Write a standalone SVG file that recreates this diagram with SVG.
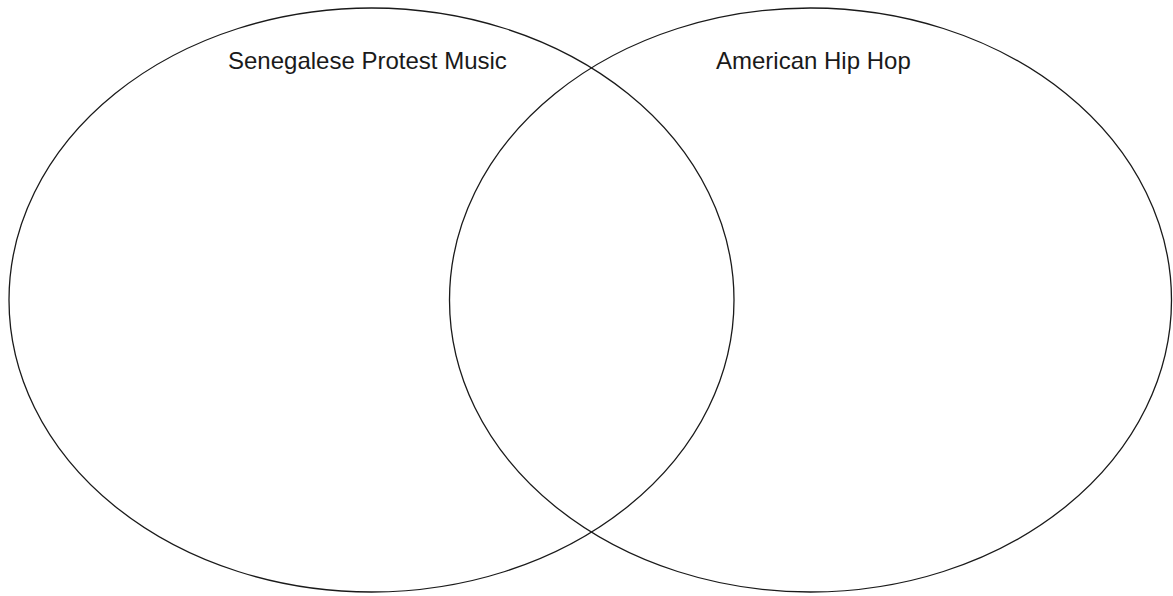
<svg xmlns="http://www.w3.org/2000/svg" width="1173" height="596" viewBox="0 0 1173 596">
<style>
.set{fill:none;stroke:#1a1a1a;stroke-width:1.3}
.lbl{font-family:"Liberation Sans",Arial,sans-serif;font-size:24px;fill:#1a1a1a}
</style>
<rect width="1173" height="596" fill="#fff"/>
<g id="senegalese">
<ellipse class="set" cx="371.5" cy="300" rx="362.5" ry="292"/>
<text class="lbl" x="228" y="69">Senegalese Protest Music</text>
</g>
<g id="american">
<ellipse class="set" cx="810.5" cy="300" rx="361" ry="292"/>
<text class="lbl" x="716" y="69">American Hip Hop</text>
</g>
<g id="connectors"/>
</svg>
